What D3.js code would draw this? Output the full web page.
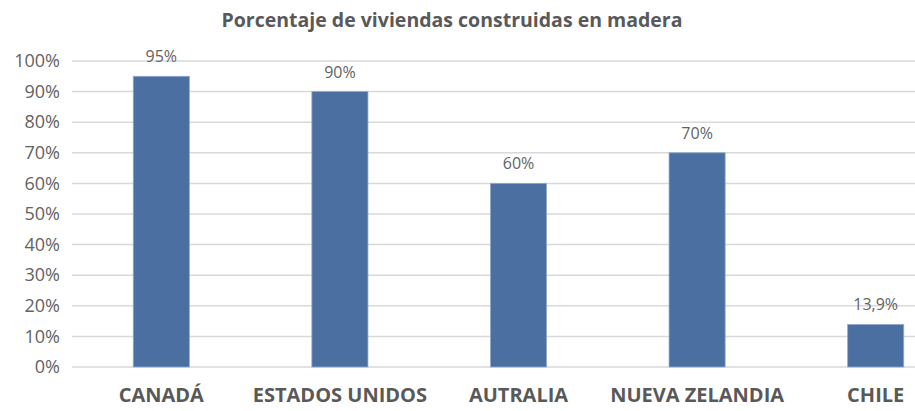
<!DOCTYPE html>
<html>
<head>
<meta charset="utf-8">
<script src="https://cdn.jsdelivr.net/npm/d3@7"></script>
<style>
  body { margin: 0; background: #fff; }
  svg { display: block; font-family: "Open Sans", sans-serif; }
</style>
</head>
<body>
<svg width="915" height="411"></svg>
<script>
const categories = ["CANADÁ", "ESTADOS UNIDOS", "AUTRALIA", "NUEVA ZELANDIA", "CHILE"];
const values = [95, 90, 60, 70, 13.9];
const valueLabels = ["95%", "90%", "60%", "70%", "13,9%"];
const yTicks = [0, 10, 20, 30, 40, 50, 60, 70, 80, 90, 100];
const title = "Porcentaje de viviendas construidas en madera";

const svg = d3.select("svg");

const area = { left: 72, right: 965, top: 61, bottom: 367 };

const scaleX = d3.scaleBand()
    .domain(categories)
    .range([area.left, area.right])
    .paddingInner(0.686)
    .paddingOuter(0.343);

const scaleY = d3.scaleLinear()
    .domain([0, 100])
    .range([area.bottom, area.top]);

// gridlines
svg.append("g")
    .selectAll("line")
    .data(yTicks)
    .enter()
    .append("line")
    .attr("x1", area.left)
    .attr("x2", area.right)
    .attr("y1", d => scaleY(d))
    .attr("y2", d => scaleY(d))
    .style("stroke", "#d9d9d9")
    .style("stroke-width", 1.5);

// y axis labels
const axisY = d3.axisLeft(scaleY)
    .tickValues(yTicks)
    .tickFormat(d => d + "%")
    .tickSize(0)
    .tickPadding(12);

svg.append("g")
    .attr("transform", `translate(${area.left}, 0)`)
    .call(axisY)
    .call(g => g.select(".domain").remove())
    .selectAll("text")
    .style("font-family", "Open Sans, sans-serif")
    .style("font-size", "18px")
    .style("fill", "#636363");

// bars
svg.append("g")
    .selectAll("rect")
    .data(values)
    .enter()
    .append("rect")
    .attr("x", (d, i) => scaleX(categories[i]))
    .attr("y", d => scaleY(d))
    .attr("width", scaleX.bandwidth())
    .attr("height", d => area.bottom - scaleY(d))
    .style("fill", "#4a6fa0")
    .style("stroke", "#8fa9cc")
    .style("stroke-width", 0.8);

// value labels
svg.append("g")
    .selectAll("text")
    .data(values)
    .enter()
    .append("text")
    .attr("x", (d, i) => scaleX(categories[i]) + scaleX.bandwidth() / 2)
    .attr("y", d => scaleY(d) - 14)
    .attr("text-anchor", "middle")
    .style("font-size", "16px")
    .style("fill", "#636363")
    .text((d, i) => valueLabels[i]);

// x axis labels
const axisX = d3.axisBottom(scaleX).tickSize(0).tickPadding(21);

svg.append("g")
    .attr("transform", `translate(0, ${area.bottom})`)
    .call(axisX)
    .call(g => g.select(".domain").remove())
    .selectAll("text")
    .style("font-family", "Open Sans, sans-serif")
    .style("font-size", "20px")
    .style("font-weight", "bold")
    .style("fill", "#595959");

// title
svg.append("text")
    .attr("x", 452)
    .attr("y", 27)
    .attr("text-anchor", "middle")
    .style("font-size", "19.5px")
    .style("font-weight", "bold")
    .style("fill", "#595959")
    .text(title);
</script>
</body>
</html>
